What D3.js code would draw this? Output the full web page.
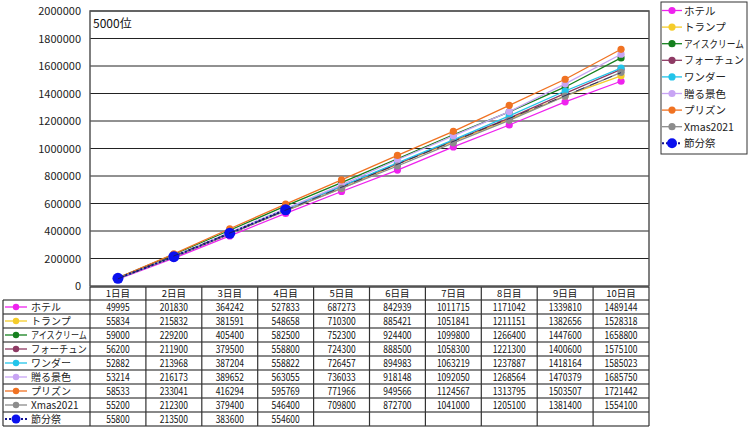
<!DOCTYPE html>
<html><head><meta charset="utf-8">
<script src="https://cdn.jsdelivr.net/npm/d3@7"></script>
<style>body{margin:0;background:#fff}svg{display:block}text{font-family:"Noto Sans CJK JP","DejaVu Sans",sans-serif}</style>
</head><body><svg id="c" width="750" height="428"></svg>
<script>
const categories = ["1日目","2日目","3日目","4日目","5日目","6日目","7日目","8日目","9日目","10日目"];
const seriesNames = ["ホテル","トランプ","アイスクリーム","フォーチュン","ワンダー","贈る景色","プリズン","Xmas2021","節分祭"];
const hotel   = [49995,201830,364242,527833,687273,842939,1011715,1171042,1339810,1489144];
const trump   = [55834,215832,381591,548658,710300,885421,1051841,1211151,1382656,1528318];
const ice     = [59000,229200,405400,582500,752300,924400,1099800,1266400,1447600,1658800];
const fortune = [56200,211900,379500,558800,724300,888500,1058300,1221300,1400600,1575100];
const wonder  = [52882,213968,387204,558822,726457,894983,1063219,1237887,1418164,1585023];
const keshiki = [53214,216173,389652,563055,736033,918148,1092050,1268564,1470379,1685750];
const prison  = [58533,233041,416294,595769,771966,949566,1124567,1313795,1503507,1721442];
const xmas    = [55200,212300,379400,546400,709800,872700,1041000,1205100,1381400,1554100];
const setsubun= [55800,213500,383600,554600,null,null,null,null,null,null];
const yTicks = [0,200000,400000,600000,800000,1000000,1200000,1400000,1600000,1800000,2000000];
const colors = ["#ee22ee","#f5cc2a","#15801e","#8e3a64","#22c4ea","#c8a4f4","#f07222","#8c8c8c","#0a10ee"];
const allValues = [hotel,trump,ice,fortune,wonder,keshiki,prison,xmas,setsubun];

const svg = d3.select("#c");
const L=90, R=649, T=11, B=286;
const x = d3.scaleBand().domain(categories).range([L,R]);
const y = d3.scaleLinear().domain([0,2000000]).range([B,T]);
const cx = c => x(c)+x.bandwidth()/2;

// label squeezed horizontally (via transform) to fit maxW
function squeezed(parent, tx, ty, str, size, maxW){
  const g = parent.append("g").attr("transform",`translate(${tx},${ty})`);
  const t = g.append("text").attr("x",0).attr("y",0).attr("font-size",size).attr("fill","#222").text(str);
  const w = t.node().getComputedTextLength();
  if(w > maxW) t.attr("transform",`scale(${maxW/w},1)`);
  return t;
}

// grid
svg.append("g").selectAll("line").data(yTicks.slice(1)).join("line")
  .attr("x1",L).attr("x2",R).attr("y1",d=>y(d)).attr("y2",d=>y(d))
  .attr("stroke","#222").attr("stroke-width",1);
svg.append("rect").attr("x",L).attr("y",T).attr("width",R-L).attr("height",B-T)
  .attr("fill","none").attr("stroke","#555").attr("stroke-width",1.5);

// y axis
const ya = svg.append("g").attr("transform",`translate(${L},0)`)
  .call(d3.axisLeft(y).tickValues(yTicks).tickFormat(d3.format("d")).tickSize(0).tickPadding(9));
ya.select(".domain").remove();
ya.selectAll("text").attr("font-family","Liberation Sans, Arial, sans-serif").attr("font-size",11).attr("fill","#222");

svg.append("text").attr("x",L+3).attr("y",T+17).attr("font-size",12).attr("fill","#111").text("5000位");

// lines
const line = d3.line().defined(d=>d.v!=null).x(d=>cx(d.c)).y(d=>y(d.v));
allValues.forEach((vals,i)=>{
  const pts = vals.map((v,j)=>({c:categories[j],v}));
  const last = i===8;
  svg.append("path").datum(pts).attr("d",line).attr("fill","none")
    .attr("stroke", last?"#101090":colors[i]).attr("stroke-width", last?2:1.3)
    .attr("stroke-dasharray", last?"2,2":null);
  svg.append("g").selectAll("circle").data(pts.filter(d=>d.v!=null)).join("circle")
    .attr("cx",d=>cx(d.c)).attr("cy",d=>y(d.v))
    .attr("r", last?5.5:3.6).attr("fill",colors[i]);
});

// linear trendline (forecast) of 節分祭
{
  const known = setsubun.map((v,j)=>({j:j+1,v})).filter(d=>d.v!=null);
  const mx = d3.mean(known,d=>d.j), my = d3.mean(known,d=>d.v);
  const slope = d3.sum(known,d=>(d.j-mx)*(d.v-my))/d3.sum(known,d=>(d.j-mx)**2);
  const icpt = my - slope*mx;
  const tl = categories.map((c,j)=>({c, v: icpt+slope*(j+1)}));
  svg.append("path").datum([tl[0], tl[tl.length-1]]).attr("d",line).attr("fill","none")
    .attr("stroke","#1a1a50").attr("stroke-width",1).attr("stroke-dasharray","9,6").attr("opacity",0.8);
}

// legend
const lg = svg.append("g");
lg.append("rect").attr("x",661).attr("y",2).attr("width",86).attr("height",152)
  .attr("fill","#fff").attr("stroke","#333").attr("stroke-width",1);
seriesNames.forEach((n,i)=>{
  const yy = 10.5 + i*16.6;
  const last = i===8;
  lg.append("line").attr("x1",662).attr("x2",682).attr("y1",yy).attr("y2",yy)
    .attr("stroke", last?"#101090":colors[i]).attr("stroke-width", last?2:1.3).attr("stroke-dasharray", last?"2,2":null);
  lg.append("circle").attr("cx",672).attr("cy",yy).attr("r", last?5:3.6).attr("fill",colors[i]);
  squeezed(lg, 684, yy+4, n, 10.5, 60);
});

// data table
const tb = svg.append("g");
const hT=287, rT=300, rH=14;
const rows = seriesNames.length;
const bottom = rT + rows*rH;
categories.forEach(c=>{
  tb.append("text").attr("x",cx(c)).attr("y",hT+10).attr("text-anchor","middle")
    .attr("font-size",9.5).attr("fill","#111").text(c);
});
for(let r=0;r<=rows;r++){
  const yy = rT + r*rH;
  tb.append("line").attr("x1", 3).attr("x2",R).attr("y1",yy).attr("y2",yy)
    .attr("stroke","#888").attr("stroke-width",2);
}
tb.append("line").attr("x1",L).attr("x2",R).attr("y1",hT).attr("y2",hT).attr("stroke","#444").attr("stroke-width",1.5);
[L, ...categories.map(c=>x(c)+x.bandwidth())].forEach(xx=>{
  tb.append("line").attr("x1",xx).attr("x2",xx).attr("y1",hT).attr("y2",bottom)
    .attr("stroke","#333").attr("stroke-width",1.2);
});
tb.append("line").attr("x1",3).attr("x2",3).attr("y1",rT).attr("y2",bottom).attr("stroke","#333").attr("stroke-width",1.2);
seriesNames.forEach((n,i)=>{
  const yc = rT + i*rH + rH/2;
  const last = i===8;
  tb.append("line").attr("x1",5).attr("x2",27).attr("y1",yc).attr("y2",yc)
    .attr("stroke", last?"#101090":colors[i]).attr("stroke-width", last?2:1.3).attr("stroke-dasharray", last?"2,2":null);
  tb.append("circle").attr("cx",16).attr("cy",yc).attr("r", last?4.5:3.2).attr("fill",colors[i]);
  squeezed(tb, 31, yc+3.5, n, 10, 56);
  allValues[i].forEach((v,j)=>{
    if(v==null) return;
    const s = String(v);
    tb.append("text").attr("x",cx(categories[j])).attr("y",yc+4)
      .attr("text-anchor","middle").attr("font-family","Liberation Sans, Arial, sans-serif")
      .attr("font-size",10.5).attr("fill","#111")
      .attr("textLength", s.length*4.7).attr("lengthAdjust","spacingAndGlyphs").text(s);
  });
});
</script></body></html>
